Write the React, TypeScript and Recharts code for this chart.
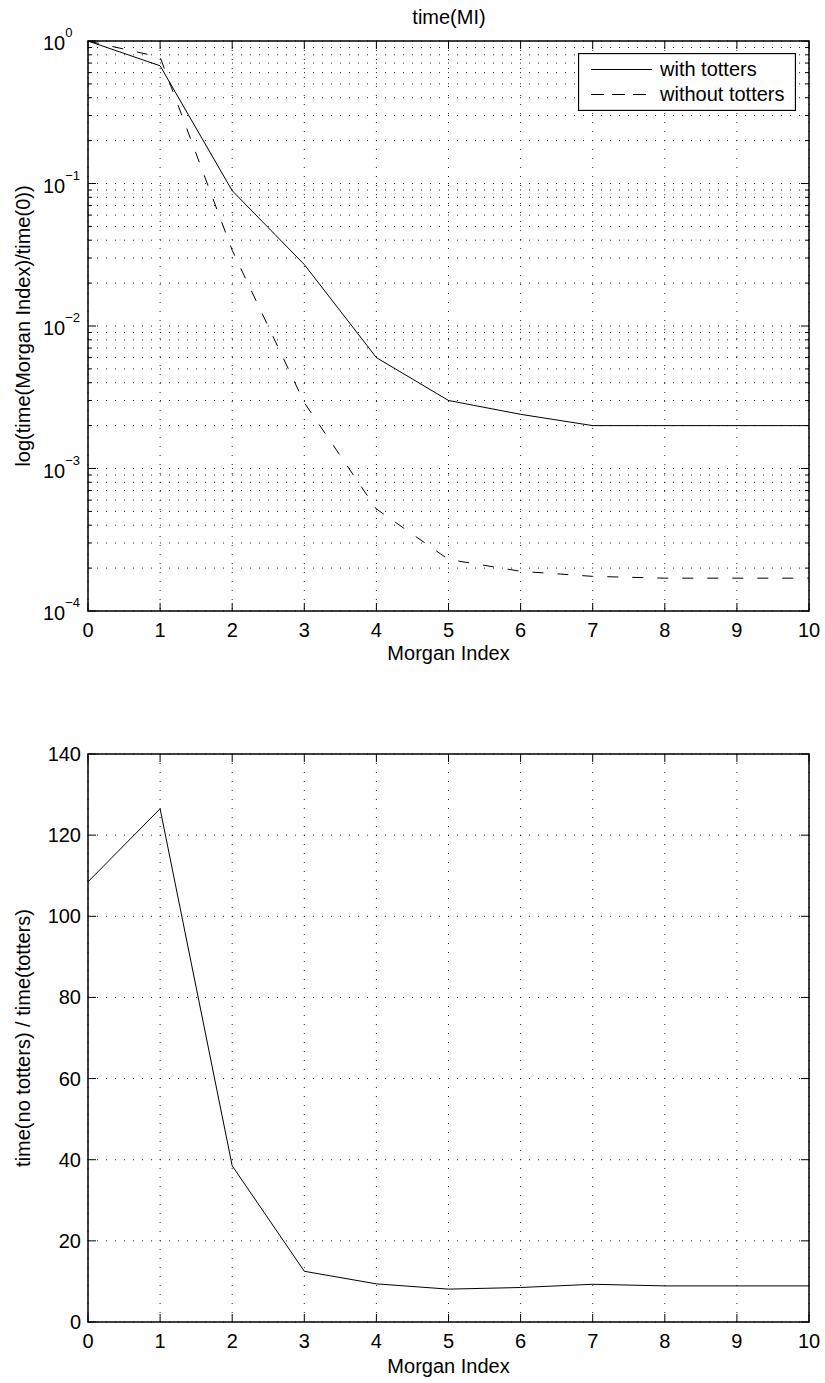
import React from 'react';
import { LineChart, Line, XAxis, YAxis, CartesianGrid, ReferenceArea, Legend } from 'recharts';

// ---------- data ----------
const morganIndex = [0, 1, 2, 3, 4, 5, 6, 7, 8, 9, 10];
const withTotters = [1, 0.67, 0.089, 0.027, 0.006, 0.003, 0.0024, 0.002, 0.002, 0.002, 0.002];
const withoutTotters = [1, 0.77, 0.034, 0.0029, 0.00052, 0.00023, 0.00019, 0.000175, 0.00017, 0.00017, 0.00017];
const ratioNoTottersToTotters = [108.5, 126.5, 38.5, 12.5, 9.4, 8.1, 8.5, 9.3, 8.9, 8.9, 8.9];

const xTicks = [0, 1, 2, 3, 4, 5, 6, 7, 8, 9, 10];
const logDecades = [1e-4, 1e-3, 1e-2, 1e-1];
const logMultipliers = [1, 2, 3, 4, 5, 6, 7, 8, 9];
const ratioTicks = [0, 20, 40, 60, 80, 100, 120, 140];
const seriesNames = ['with totters', 'without totters'];

const titleText = 'time(MI)';
const xLabelText = 'Morgan Index';
const topYLabel = 'log(time(Morgan Index)/time(0))';
const bottomYLabel = 'time(no totters) / time(totters)';

const logTicks = [...logDecades.flatMap((d) => logMultipliers.map((m) => d * m)), 1];

const topData = morganIndex.map((mi, i) => ({ mi, withT: withTotters[i], withoutT: withoutTotters[i] }));
const bottomData = morganIndex.map((mi, i) => ({ mi, ratio: ratioNoTottersToTotters[i] }));

// ---------- layout ----------
const W = 825;
const FONT = '"Liberation Sans", Arial, Helvetica, sans-serif';
const PLOT_L = 88;
const PLOT_R = 809;
const TOP_H = 670;
const TOP_T = 41;
const TOP_B = 611;
const BOT_OFF = 690;
const BOT_H = 693;
const BOT_T = 64;
const BOT_B = 632;
const YAXIS_W = 60;
const XAXIS_H = 30;
const GRID_DASH = '1 8';
const DASH = '11 14';

const makeXTick = (top: number, bottom: number) => (props: any) => {
  const { x, payload } = props;
  return (
    <g>
      <line x1={x} x2={x} y1={bottom} y2={bottom - 8} stroke="#000" strokeWidth={1} />
      <line x1={x} x2={x} y1={top} y2={top + 8} stroke="#000" strokeWidth={1} />
      <text x={x} y={bottom + 26} textAnchor="middle" fontSize={20} fontFamily={FONT} fill="#000">
        {payload.value}
      </text>
    </g>
  );
};

const LogYTick = (props: any) => {
  const { y, payload } = props;
  const v = payload.value as number;
  const lg = Math.log10(v);
  const e = Math.round(lg);
  const major = Math.abs(lg - e) < 1e-6;
  const len = major ? 8 : 4;
  return (
    <g>
      <line x1={PLOT_L} x2={PLOT_L + len} y1={y} y2={y} stroke="#000" strokeWidth={1} />
      <line x1={PLOT_R} x2={PLOT_R - len} y1={y} y2={y} stroke="#000" strokeWidth={1} />
      {major && (
        <text x={43} y={y + 9} fontSize={20} fontFamily={FONT} fill="#000">
          <tspan>10</tspan>
          <tspan dy={-13} fontSize={13}>{e === 0 ? '0' : '\u2212' + -e}</tspan>
        </text>
      )}
    </g>
  );
};

const LinYTick = (props: any) => {
  const { y, payload } = props;
  return (
    <g>
      <line x1={PLOT_L} x2={PLOT_L + 8} y1={y} y2={y} stroke="#000" strokeWidth={1} />
      <line x1={PLOT_R} x2={PLOT_R - 8} y1={y} y2={y} stroke="#000" strokeWidth={1} />
      <text x={81} y={y + 7} textAnchor="end" fontSize={20} fontFamily={FONT} fill="#000">
        {payload.value}
      </text>
    </g>
  );
};

const renderLegend = () => (
  <svg width={218} height={58} style={{ display: 'block' }}>
    <rect x={0.5} y={0.5} width={217} height={57} fill="#fff" stroke="#000" strokeWidth={1.3} />
    {seriesNames.map((name, i) => (
      <g key={name}>
        <line
          x1={13}
          x2={74}
          y1={16.5 + 25 * i}
          y2={16.5 + 25 * i}
          stroke="#000"
          strokeWidth={1}
          strokeDasharray={i === 1 ? '13 8' : undefined}
        />
        <text x={82} y={23 + 25 * i} fontSize={20} fontFamily={FONT} fill="#000">
          {name}
        </text>
      </g>
    ))}
  </svg>
);

export default function App() {
  return (
    <div style={{ position: 'absolute', left: 0, top: 0, width: W, height: 1383, background: '#fff', fontFamily: FONT }}>
      <div style={{ position: 'absolute', left: 0, top: 0 }}>
        <LineChart
          width={W}
          height={TOP_H}
          data={topData}
          margin={{ top: TOP_T, right: W - PLOT_R, left: PLOT_L - YAXIS_W, bottom: TOP_H - TOP_B - XAXIS_H }}
        >
          <CartesianGrid stroke="#222" strokeDasharray={GRID_DASH} strokeWidth={1} />
          <XAxis
            dataKey="mi"
            type="number"
            domain={[0, 10]}
            ticks={xTicks}
            height={XAXIS_H}
            axisLine={false}
            tickLine={false}
            interval={0}
            tick={makeXTick(TOP_T, TOP_B)}
          />
          <YAxis
            type="number"
            scale="log"
            domain={[1e-4, 1]}
            allowDataOverflow
            ticks={logTicks}
            width={YAXIS_W}
            axisLine={false}
            tickLine={false}
            interval={0}
            tick={LogYTick}
          />
          <ReferenceArea x1={0} x2={10} y1={1e-4} y2={1} fill="none" stroke="#000" strokeWidth={1.5} />
          <Line
            dataKey="withT"
            name={seriesNames[0]}
            type="linear"
            stroke="#000"
            strokeWidth={1}
            dot={false}
            isAnimationActive={false}
          />
          <Line
            dataKey="withoutT"
            name={seriesNames[1]}
            type="linear"
            stroke="#000"
            strokeWidth={1}
            strokeDasharray={DASH}
            dot={false}
            isAnimationActive={false}
          />
          <Legend
            layout="horizontal"
            verticalAlign="middle"
            align="center"
            content={renderLegend}
            wrapperStyle={{ left: 578, top: 53, width: 218, height: 58 }}
          />
        </LineChart>
      </div>
      <div style={{ position: 'absolute', left: 0, top: BOT_OFF }}>
        <LineChart
          width={W}
          height={BOT_H}
          data={bottomData}
          margin={{ top: BOT_T, right: W - PLOT_R, left: PLOT_L - YAXIS_W, bottom: BOT_H - BOT_B - XAXIS_H }}
        >
          <CartesianGrid stroke="#222" strokeDasharray={GRID_DASH} strokeWidth={1} />
          <XAxis
            dataKey="mi"
            type="number"
            domain={[0, 10]}
            ticks={xTicks}
            height={XAXIS_H}
            axisLine={false}
            tickLine={false}
            interval={0}
            tick={makeXTick(BOT_T, BOT_B)}
          />
          <YAxis
            type="number"
            domain={[0, 140]}
            ticks={ratioTicks}
            width={YAXIS_W}
            axisLine={false}
            tickLine={false}
            interval={0}
            tick={LinYTick}
          />
          <ReferenceArea x1={0} x2={10} y1={0} y2={140} fill="none" stroke="#000" strokeWidth={1.5} />
          <Line
            dataKey="ratio"
            type="linear"
            stroke="#000"
            strokeWidth={1}
            dot={false}
            isAnimationActive={false}
          />
        </LineChart>
      </div>
      <svg
        width={W}
        height={1383}
        style={{ position: 'absolute', left: 0, top: 0, pointerEvents: 'none' }}
      >
        <text x={449} y={24} textAnchor="middle" fontSize={20} fontFamily={FONT} fill="#000">
          {titleText}
        </text>
        <text x={448.5} y={660} textAnchor="middle" fontSize={20} fontFamily={FONT} fill="#000">
          {xLabelText}
        </text>
        <text x={448.5} y={1373} textAnchor="middle" fontSize={20} fontFamily={FONT} fill="#000">
          {xLabelText}
        </text>
        <text
          x={30}
          y={326}
          textAnchor="middle"
          fontSize={20}
          fontFamily={FONT}
          fill="#000"
          transform="rotate(-90 30 326)"
        >
          {topYLabel}
        </text>
        <text
          x={30}
          y={1038}
          textAnchor="middle"
          fontSize={20}
          fontFamily={FONT}
          fill="#000"
          transform="rotate(-90 30 1038)"
        >
          {bottomYLabel}
        </text>
      </svg>
    </div>
  );
}
